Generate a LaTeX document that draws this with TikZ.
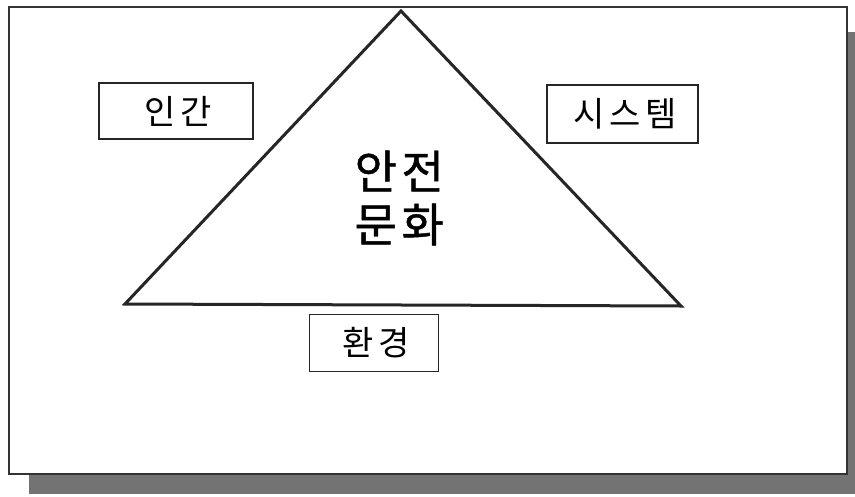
\documentclass[tikz,border=0pt]{standalone}
\usepackage{fontspec}
\newfontfamily\kr{Noto Sans CJK KR}[LetterSpace=14]
\newfontfamily\krc{Noto Sans CJK KR}[LetterSpace=10,FakeBold=1]
\newcommand{\lsk}{\kern4.76pt}
\newcommand{\lskc}{\kern4.6pt}
\tikzset{
  label box/.style={draw=black!85, line width=1.2pt, fill=white, inner sep=0pt, font=\kr\fontsize{34}{40}\selectfont},
  tri/.style={draw=black!85, line width=3pt, line join=miter},
}
\begin{document}
\begin{tikzpicture}[x=1pt,y=-1pt]
\useasboundingbox (0,0) rectangle (855,496);
\fill[white] (0,0) rectangle (855,496);
% shadow
\fill[black!55] (29,474) rectangle (855,494);
\fill[black!55] (847,32) rectangle (855,494);
% frame
\draw[black!80, line width=1.3pt, fill=white] (9,7) rectangle (847,474);
% triangle
\coordinate (apex) at (401,11);
\coordinate (bl) at (125,304);
\coordinate (br) at (681,306);
\draw[tri] (apex) -- (bl) -- (br) -- cycle;
% boxes
\node[label box, minimum width=154pt, minimum height=56pt] (human) at (176,111) {\lsk 인간};
\node[label box, minimum width=151pt, minimum height=58pt] (system) at (622.5,114) {\lsk 시스템};
\node[label box, minimum width=129pt, minimum height=57pt] (env) at (374,343) {\lsk 환경};
% centre
\node[font=\krc\fontsize{46}{53}\selectfont, align=center, inner sep=0pt] (culture) at (397,198) {\lskc 안전\\\lskc 문화};
\end{tikzpicture}
\end{document}
